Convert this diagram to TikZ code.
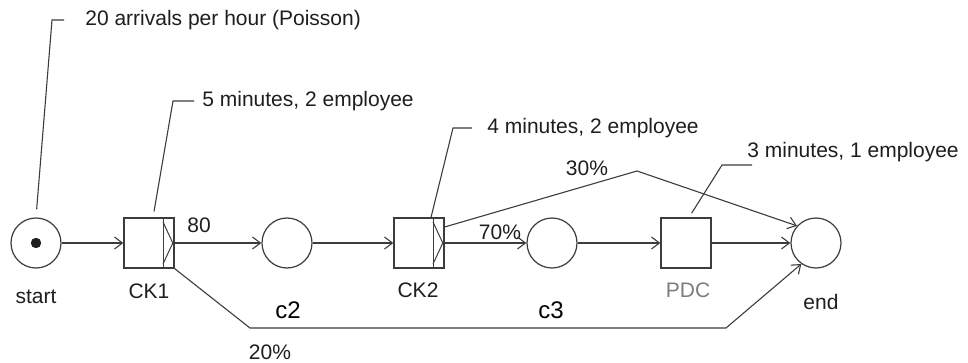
\documentclass[tikz,border=0pt]{standalone}
\usepackage{fontspec}
\setmainfont{Liberation Sans}
\usetikzlibrary{arrows.meta}
\definecolor{petriline}{RGB}{60, 60, 60}
\definecolor{petritext}{RGB}{30, 30, 30}
\definecolor{petrigray}{RGB}{125, 125, 125}

\begin{document}
\begin{tikzpicture}[
  x=0.5pt, y=-0.5pt,
  place/.style={circle, draw=petriline, line width=0.6pt,
                minimum size=25pt, inner sep=0pt},
  trans/.style={rectangle, draw=petriline, line width=0.6pt,
                minimum size=25pt, inner sep=0pt},
  xortrans/.style={trans, path picture={
      \draw[petriline, line width=0.5pt]
        ([xshift=-5.5pt]path picture bounding box.north east)
          -- ([xshift=-5.5pt]path picture bounding box.south east);
      \draw[petriline, line width=0.5pt]
        ([xshift=-5.5pt, yshift=-2pt]path picture bounding box.north east)
          -- ([xshift=-0.6pt]path picture bounding box.east)
          -- ([xshift=-5.5pt, yshift=2pt]path picture bounding box.south east);
  }},
  token/.style={circle, fill=petritext, minimum size=5.2pt, inner sep=0pt},
  lbl/.style={font=\fontsize{10.5}{12}\selectfont, text=petritext, inner sep=0pt},
  plbl/.style={font=\fontsize{12}{14}\selectfont, text=black, inner sep=0pt},
  arr/.style={-{Straight Barb[length=4pt, width=6pt]}, line width=0.55pt, color=petriline},
  note/.style={line width=0.55pt, color=petriline}
]
  \useasboundingbox (0,0) rectangle (968,363);

  % Places and transitions
  \node[place]    (start)  at (36, 243)  {};
  \node[token]    (tok)    at (start)    {};
  \node[xortrans] (ck1)    at (149, 243) {};
  \node[place]    (c2)     at (287, 243) {};
  \node[xortrans] (ck2)    at (419, 243) {};
  \node[place]    (c3)     at (552, 243) {};
  \node[trans]    (pdc)    at (686, 243) {};
  \node[place]    (finish) at (816, 243) {};

  % Names under the nodes
  \node[lbl] (start-l) at (36, 297)  {start};
  \node[lbl] (ck1-l)   at (149, 291) {CK1};
  \node[plbl] (c2-l)   at (288, 310) {c2};
  \node[lbl] (ck2-l)   at (418, 290) {CK2};
  \node[plbl] (c3-l)   at (551, 310) {c3};
  \node[lbl, text=petrigray] (pdc-l) at (688, 290) {PDC};
  \node[lbl] (finish-l) at (821, 302) {end};

  % Branch labels
  \node[lbl] (p80) at (199, 225) {80};
  \node[lbl] (p70) at (500, 232) {70\%};
  \node[lbl] (p30) at (587, 168) {30\%};
  \node[lbl] (p20) at (270, 352) {20\%};

  % Notes
  \node[lbl, anchor=west] (n-arr) at (85, 20)  {20 arrivals per hour (Poisson)};
  \node[lbl, anchor=west] (n-ck1) at (202, 101) {5 minutes, 2 employee};
  \node[lbl, anchor=west] (n-ck2) at (487, 128) {4 minutes, 2 employee};
  \node[lbl, anchor=west] (n-pdc) at (747, 152) {3 minutes, 1 employee};

  \coordinate (k-arr)   at (52, 20);
  \coordinate (k-arr-e) at (64, 20);
  \coordinate (k-ck1)   at (173, 101);
  \coordinate (k-ck1-e) at (194, 101);
  \coordinate (k-ck2)   at (453, 128);
  \coordinate (k-ck2-e) at (472, 128);
  \coordinate (k-pdc)   at (722, 165);
  \coordinate (k-pdc-e) at (752, 165);

  \draw[note, shorten <=4pt] (start.north) -- (k-arr) -- (k-arr-e);
  \draw[note, shorten <=3pt] ([xshift=2pt]ck1.north) -- (k-ck1) -- (k-ck1-e);
  \draw[note] ([xshift=6pt]ck2.north) -- (k-ck2) -- (k-ck2-e);
  \draw[note, shorten <=2.5pt] ([xshift=1.5pt]pdc.north) -- (k-pdc) -- (k-pdc-e);

  % Arrows
  \draw[arr] (start) -- (ck1);
  \draw[arr] (ck1)   -- (c2);
  \draw[arr] (c2)    -- (ck2);
  \draw[arr] (ck2)   -- (c3);
  \draw[arr] (c3)    -- (pdc);
  \draw[arr] (pdc)   -- (finish);

  \coordinate (b30)  at (637, 171);
  \coordinate (b20a) at (250, 328);
  \coordinate (b20b) at (726, 328);
  \draw[arr] ([yshift=8pt]ck2.east) -- (b30) -- (finish.138);
  \draw[arr] (ck1.south east) -- (b20a) -- (b20b) -- (finish.235);
\end{tikzpicture}
\end{document}
